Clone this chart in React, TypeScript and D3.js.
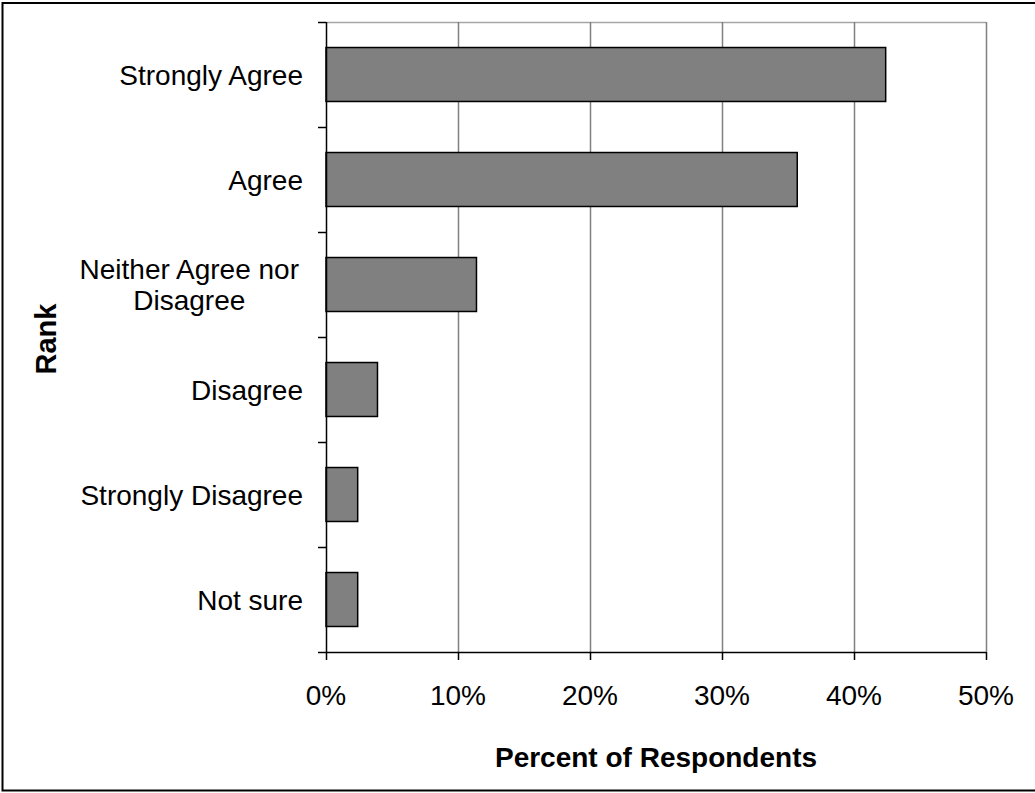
import React, { useEffect, useRef } from "react";
import * as d3 from "d3";

// Survey responses, top to bottom
const categories: string[][] = [
  ["Strongly Agree"],
  ["Agree"],
  ["Neither Agree nor", "Disagree"],
  ["Disagree"],
  ["Strongly Disagree"],
  ["Not sure"],
];
const percents: number[] = [42.4, 35.7, 11.4, 3.9, 2.4, 2.4];
const xTicks: number[] = [0, 10, 20, 30, 40, 50];
const xTitle = "Percent of Respondents";
const yTitle = "Rank";

const W = 1035;
const H = 793;
const FONT = "'Liberation Sans', Arial, sans-serif";

export default function App() {
  const ref = useRef<SVGSVGElement | null>(null);

  useEffect(() => {
    const svg = d3.select(ref.current);
    svg.selectAll("*").remove();

    const left = 326;
    const right = 986;
    const top = 22;
    const bottom = 652;

    const x = d3.scaleLinear().domain([0, 50]).range([left, right]);
    const keys = categories.map((_, i) => String(i));
    const y = d3
      .scaleBand<string>()
      .domain(keys)
      .range([top, bottom])
      .paddingInner(0.486)
      .paddingOuter(0.243);
    const step = y.step();

    // outer chart frame
    svg
      .append("rect")
      .attr("x", 2.5)
      .attr("y", 3)
      .attr("width", 1045)
      .attr("height", 787.5)
      .attr("fill", "#fff")
      .attr("stroke", "#000")
      .attr("stroke-width", 2);

    // plot area frame (top edge)
    svg
      .append("line")
      .attr("x1", left)
      .attr("x2", right)
      .attr("y1", top + 0.5)
      .attr("y2", top + 0.5)
      .attr("stroke", "#a6a6a6")
      .attr("stroke-width", 1.5);

    // vertical gridlines
    svg
      .append("g")
      .selectAll("line")
      .data(xTicks.filter((t) => t > 0))
      .join("line")
      .attr("x1", (d) => Math.round(x(d)) + 0.5)
      .attr("x2", (d) => Math.round(x(d)) + 0.5)
      .attr("y1", top)
      .attr("y2", bottom)
      .attr("stroke", "#808080")
      .attr("stroke-width", 1.5);

    // bars
    svg
      .append("g")
      .selectAll("rect")
      .data(percents)
      .join("rect")
      .attr("x", x(0))
      .attr("y", (_, i) => y(keys[i]) as number)
      .attr("width", (d) => x(d) - x(0))
      .attr("height", y.bandwidth())
      .attr("fill", "#808080")
      .attr("stroke", "#000")
      .attr("stroke-width", 1.5);

    // axes lines
    svg
      .append("line")
      .attr("x1", left + 0.5)
      .attr("x2", left + 0.5)
      .attr("y1", top)
      .attr("y2", bottom)
      .attr("stroke", "#000")
      .attr("stroke-width", 1.5);
    svg
      .append("line")
      .attr("x1", left)
      .attr("x2", right)
      .attr("y1", bottom + 0.5)
      .attr("y2", bottom + 0.5)
      .attr("stroke", "#000")
      .attr("stroke-width", 1.5);

    // y tick marks at category boundaries
    const boundaries = d3.range(categories.length + 1).map((i) => top + i * step);
    svg
      .append("g")
      .selectAll("line")
      .data(boundaries)
      .join("line")
      .attr("x1", left - 8)
      .attr("x2", left)
      .attr("y1", (d) => d + 0.5)
      .attr("y2", (d) => d + 0.5)
      .attr("stroke", "#000")
      .attr("stroke-width", 1.5);

    // x tick marks
    svg
      .append("g")
      .selectAll("line")
      .data(xTicks)
      .join("line")
      .attr("x1", (d) => Math.round(x(d)) + 0.5)
      .attr("x2", (d) => Math.round(x(d)) + 0.5)
      .attr("y1", bottom)
      .attr("y2", bottom + 8)
      .attr("stroke", "#000")
      .attr("stroke-width", 1.5);

    // x tick labels
    svg
      .append("g")
      .selectAll("text")
      .data(xTicks)
      .join("text")
      .attr("x", (d) => x(d))
      .attr("y", 705)
      .attr("text-anchor", "middle")
      .attr("font-family", FONT)
      .attr("font-size", 28)
      .attr("fill", "#000")
      .text((d) => `${d}%`);

    // category labels
    const labelRight = 303;
    const lineH = 31;
    categories.forEach((lines, i) => {
      const cy = (y(keys[i]) as number) + y.bandwidth() / 2;
      const t = svg
        .append("text")
        .attr("font-family", FONT)
        .attr("font-size", 28)
        .attr("fill", "#000")
        .attr("text-anchor", lines.length > 1 ? "middle" : "end");
      const spans = lines.map((ln, j) =>
        t
          .append("tspan")
          .attr("y", cy + (j - (lines.length - 1) / 2) * lineH + 10)
          .text(ln)
      );
      if (lines.length > 1) {
        const widths = spans.map((s) => (s.node() as SVGTSpanElement).getComputedTextLength());
        const cx = labelRight - 4 - (d3.max(widths) as number) / 2;
        spans.forEach((s) => s.attr("x", cx));
      } else {
        spans.forEach((s) => s.attr("x", labelRight));
      }
    });

    // axis titles
    svg
      .append("text")
      .attr("x", (left + right) / 2)
      .attr("y", 767)
      .attr("text-anchor", "middle")
      .attr("font-family", FONT)
      .attr("font-size", 28)
      .attr("font-weight", "bold")
      .attr("fill", "#000")
      .text(xTitle);

    svg
      .append("text")
      .attr("transform", `translate(56, ${(top + bottom) / 2 + 2}) rotate(-90)`)
      .attr("text-anchor", "middle")
      .attr("font-family", FONT)
      .attr("font-size", 29)
      .attr("font-weight", "bold")
      .attr("fill", "#000")
      .text(yTitle);
  }, []);

  return (
    <svg
      ref={ref}
      width={W}
      height={H}
      style={{ position: "absolute", left: 0, top: 0, display: "block", background: "#fff" }}
    />
  );
}
